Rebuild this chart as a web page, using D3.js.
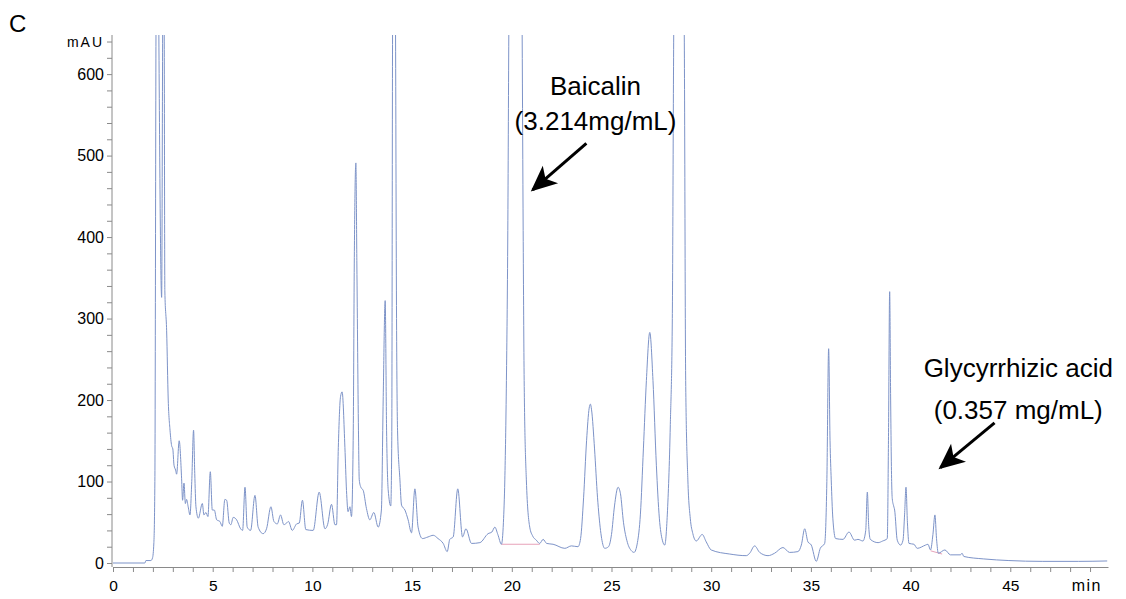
<!DOCTYPE html>
<html lang="en">
<head>
    <meta charset="UTF-8">
    <title>HPLC chromatogram C</title>
    <script src="https://d3js.org/d3.v7.min.js"></script>
</head>
<body>
    <div id="container"></div>
</body>

<style>
body {
    margin: 0;
    background: #fff;
}
svg text {
    font-family: Arial, "Liberation Sans", sans-serif;
    fill: #000;
}
</style>

<script>
    // retention time (min), absorbance (mAU)
    const trace = [
        [0, 0], [1.6, 0], [1.65, 3], [1.9, 3], [1.98, 6], [2.05, 25], [2.1, 100], [2.155, 648],
        [2.22, 1000], [2.3, 648], [2.44, 326], [2.49, 648], [2.53, 900], [2.57, 648], [2.6, 334],
        [2.69, 285], [2.77, 200], [2.86, 163], [2.94, 144], [3.0, 140], [3.06, 120], [3.14, 114],
        [3.19, 109], [3.32, 150], [3.44, 104], [3.49, 77], [3.56, 98], [3.63, 73], [3.69, 78],
        [3.77, 69], [3.86, 59], [3.95, 100], [4.04, 163], [4.1, 110], [4.16, 69], [4.28, 55],
        [4.48, 73], [4.56, 59], [4.66, 62], [4.76, 57], [4.88, 112], [4.98, 65], [5.08, 65],
        [5.2, 53], [5.36, 51], [5.48, 45], [5.61, 78], [5.7, 77], [5.83, 49], [5.91, 47],
        [6.03, 56], [6.2, 53], [6.4, 42], [6.5, 40], [6.62, 93], [6.73, 44], [6.9, 40],
        [7.12, 83], [7.28, 44], [7.53, 36], [7.7, 42], [7.92, 69], [8.07, 51], [8.24, 48],
        [8.4, 59], [8.57, 47], [8.7, 49], [8.8, 51], [8.99, 40], [9.21, 48], [9.34, 49],
        [9.5, 77], [9.67, 41], [10.04, 40], [10.34, 87], [10.63, 42], [10.76, 47], [10.96, 72],
        [11.13, 47], [11.21, 47], [11.3, 142], [11.41, 204], [11.49, 210], [11.63, 142],
        [11.71, 89], [11.79, 63], [11.88, 69], [11.96, 57], [12.05, 163], [12.1, 367],
        [12.18, 491], [12.23, 367], [12.31, 163], [12.35, 102], [12.43, 93], [12.55, 89],
        [12.71, 67], [12.88, 53], [13.08, 62], [13.3, 44], [13.46, 65], [13.55, 200],
        [13.65, 322], [13.72, 163], [13.8, 90], [13.93, 70], [13.98, 150], [14.02, 648],
        [14.1, 1000], [14.17, 648], [14.22, 300], [14.27, 163], [14.39, 102], [14.47, 71],
        [14.64, 65], [14.8, 53], [14.97, 37], [15.14, 91], [15.3, 44], [15.52, 30], [15.8, 32],
        [16.06, 34], [16.3, 30], [16.56, 24], [16.76, 14], [16.89, 29], [17.06, 32], [17.29, 91],
        [17.53, 32], [17.7, 42], [17.98, 24], [18.4, 25], [18.81, 36], [19.0, 38], [19.15, 44],
        [19.3, 35], [19.48, 23], [19.58, 50], [19.65, 102], [19.73, 224], [19.8, 408],
        [19.85, 648], [20.2, 1400], [20.52, 648], [20.57, 408], [20.62, 224], [20.73, 102],
        [20.9, 44], [21.05, 33], [21.23, 28], [21.4, 24], [21.57, 29], [21.75, 24], [22.07, 23],
        [22.66, 18], [22.99, 21], [23.32, 20], [23.45, 30], [23.6, 80], [23.75, 150],
        [23.88, 190], [23.94, 195], [24.0, 188], [24.15, 140], [24.3, 80], [24.45, 40],
        [24.6, 20], [24.66, 18], [24.85, 20], [25.0, 35], [25.15, 70], [25.33, 93], [25.45, 85],
        [25.6, 50], [25.8, 25], [26.0, 15], [26.13, 13], [26.3, 25], [26.45, 60], [26.6, 140],
        [26.75, 224], [26.92, 283], [27.08, 224], [27.25, 120], [27.4, 55], [27.55, 28],
        [27.67, 22], [27.8, 60], [27.95, 170], [28.05, 300], [28.12, 648], [28.38, 1150],
        [28.65, 648], [28.72, 224], [28.83, 102], [28.95, 55], [29.08, 36], [29.25, 27],
        [29.55, 35], [29.75, 26], [30.0, 16], [30.93, 11], [31.76, 9], [31.93, 12], [32.18, 21],
        [32.43, 13], [32.85, 9], [33.18, 12], [33.6, 19], [33.93, 13], [34.35, 14], [34.52, 22],
        [34.69, 42], [34.85, 26], [35.02, 22], [35.27, 2], [35.47, 18], [35.69, 24], [35.8, 100],
        [35.89, 263], [35.96, 150], [36.02, 102], [36.1, 55], [36.24, 30], [36.61, 29],
        [36.91, 38], [37.19, 28], [37.36, 29], [37.61, 27], [37.75, 40], [37.83, 87], [37.9, 45],
        [37.98, 29], [38.37, 25], [38.6, 27], [38.83, 30], [38.89, 150], [38.95, 333],
        [39.0, 200], [39.05, 100], [39.08, 79], [39.15, 70], [39.2, 65], [39.33, 28], [39.5, 22],
        [39.62, 28], [39.7, 60], [39.77, 93], [39.84, 50], [39.92, 24], [40.17, 23], [40.33, 18],
        [40.75, 22], [40.87, 23], [41.0, 16], [41.12, 35], [41.22, 59], [41.3, 30], [41.39, 12],
        [41.72, 16], [42.0, 10], [42.5, 10], [42.58, 12], [42.67, 8], [43.67, 5], [44.93, 3],
        [46.6, 2], [48.43, 2], [49.86, 2.5]
    ]

    // integration baselines drawn under the two quantified peaks
    const baselines = [
        [[19.48, 23], [21.4, 23]],
        [[41.0, 15], [41.58, 11]]
    ]

    const xTicks = d3.range(0, 50, 1)
    const xLabels = [0, 5, 10, 15, 20, 25, 30, 35, 40, 45]
    const yTicks = d3.range(0, 641, 20)
    const yLabels = [0, 100, 200, 300, 400, 500, 600]

    // annotations: text lines (anchor in min / mAU), arrow from -> to
    const notes = [
        {lines: ['Baicalin', '(3.214mg/mL)'], at: [24.2, 574], gap: 43,
         from: [23.74, 515], to: [21.05, 458]},
        {lines: ['Glycyrrhizic acid', '(0.357 mg/mL)'], at: [45.4, 228], gap: 51,
         from: [44.21, 172], to: [41.5, 117]}
    ]

    const width = 1126
    const height = 599

    const x = d3.scaleLinear().domain([0, 49.9]).range([113, 1108])
    const y = d3.scaleLinear().domain([0, 648]).range([563, 35])
    const axisY = 567

    const svg = d3.select('#container')
        .append('svg')
        .attr('width', width)
        .attr('height', height)

    svg.append('defs').append('clipPath')
        .attr('id', 'plot-clip')
        .append('rect')
        .attr('x', x.range()[0])
        .attr('y', y.range()[1])
        .attr('width', x.range()[1] - x.range()[0])
        .attr('height', axisY - y.range()[1])

    // panel letter
    svg.append('text')
        .attr('x', 9)
        .attr('y', 32)
        .style('font-size', '24px')
        .text('C')

    // x axis
    const xAxis = svg.append('g')
        .attr('transform', 'translate(0,' + axisY + ')')
        .call(d3.axisBottom(x)
            .tickValues(xTicks)
            .tickSize(5)
            .tickSizeOuter(0)
            .tickPadding(8)
            .tickFormat(d => xLabels.includes(d) ? d : ''))
    xAxis.select('.domain').attr('stroke', '#8a8a8a')
    xAxis.selectAll('.tick line').attr('stroke', '#8a8a8a')
    xAxis.selectAll('.tick text')
        .style('font-size', '15.5px')
        .style('font-family', 'Arial, "Liberation Sans", sans-serif')
        .attr('fill', '#000')

    svg.append('text')
        .attr('x', x(49.6))
        .attr('y', 591)
        .attr('text-anchor', 'end')
        .style('font-size', '16px')
        .style('letter-spacing', '1.5px')
        .text('min')

    // y axis
    const yAxis = svg.append('g')
        .attr('transform', 'translate(112,0)')
        .call(d3.axisLeft(y)
            .tickValues(yTicks)
            .tickSize(5)
            .tickSizeOuter(0)
            .tickPadding(3)
            .tickFormat(d => yLabels.includes(d) ? d : ''))
    yAxis.select('.domain').remove()
    yAxis.append('line')
        .attr('y1', y.range()[1])
        .attr('y2', axisY)
        .attr('stroke', '#8a8a8a')
    yAxis.selectAll('.tick line').attr('stroke', '#8a8a8a')
    yAxis.selectAll('.tick text')
        .style('font-size', '16px')
        .style('font-family', 'Arial, "Liberation Sans", sans-serif')
        .attr('fill', '#000')

    svg.append('text')
        .attr('x', 104)
        .attr('y', 47)
        .attr('text-anchor', 'end')
        .style('font-size', '14px')
        .style('letter-spacing', '2px')
        .text('mAU')

    // chromatogram trace
    const line = d3.line()
        .x(d => x(d[0]))
        .y(d => y(d[1]))
        .curve(d3.curveMonotoneX)

    const plot = svg.append('g').attr('clip-path', 'url(#plot-clip)')

    plot.selectAll('.baseline')
        .data(baselines)
        .enter()
        .append('path')
        .attr('d', d3.line().x(d => x(d[0])).y(d => y(d[1])))
        .attr('fill', 'none')
        .attr('stroke', '#e7a3b9')
        .attr('stroke-width', 1)

    plot.append('path')
        .datum(trace)
        .attr('d', line)
        .attr('fill', 'none')
        .attr('stroke', '#7d93c8')
        .attr('stroke-width', 1)

    // annotations
    const marker = svg.select('defs').append('marker')
        .attr('id', 'arrow-head')
        .attr('viewBox', '0 0 10 10')
        .attr('refX', 9)
        .attr('refY', 5)
        .attr('markerUnits', 'userSpaceOnUse')
        .attr('markerWidth', 28)
        .attr('markerHeight', 26)
        .attr('orient', 'auto')
    marker.append('path')
        .attr('d', 'M0,0.5 L10,5 L0,9.5 L2.5,5 Z')
        .attr('fill', '#000')

    const ng = svg.selectAll('.note')
        .data(notes)
        .enter()
        .append('g')

    ng.each(function(d) {
        const g = d3.select(this)
        d.lines.forEach(function(t, i) {
            g.append('text')
                .attr('x', x(d.at[0]))
                .attr('y', y(d.at[1]) + i * d.gap * 0.815)
                .attr('text-anchor', 'middle')
                .style('font-size', '26px')
                .text(t)
        })
        g.append('line')
            .attr('x1', x(d.from[0]))
            .attr('y1', y(d.from[1]))
            .attr('x2', x(d.to[0]))
            .attr('y2', y(d.to[1]) - 0)
            .attr('stroke', '#000')
            .attr('stroke-width', 3)
            .attr('marker-end', 'url(#arrow-head)')
    })
</script>
</html>
